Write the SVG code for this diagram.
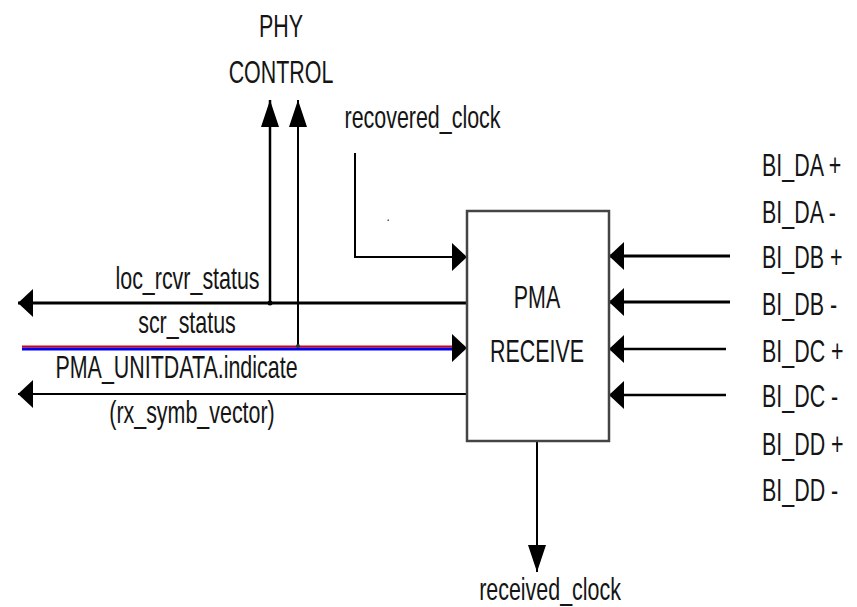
<svg xmlns="http://www.w3.org/2000/svg" width="857" height="607" viewBox="0 0 857 607">
<style>
text{font-family:"Liberation Sans",Arial,sans-serif;font-size:32px;fill:#151515}
.c{text-anchor:middle}
.ln{fill:none;stroke:#000}
</style>
<defs>
<marker id="ah" markerUnits="userSpaceOnUse" viewBox="0 0 15 28" refX="15" refY="14" markerWidth="15" markerHeight="28" orient="auto">
<path d="M0,0 L15,14 L0,28 Z" fill="#000"/>
</marker>
<marker id="av" markerUnits="userSpaceOnUse" viewBox="0 0 27 18" refX="27" refY="9" markerWidth="27" markerHeight="18" orient="auto">
<path d="M0,0 L27,9 L0,18 Z" fill="#000"/>
</marker>
</defs>
<rect width="857" height="607" fill="#fff"/>

<g id="connectors">
<path class="ln" d="M467,303 H18" stroke-width="3" marker-end="url(#ah)"/>
<path d="M22,346.5 H455" stroke="#e00000" stroke-width="2"/>
<path d="M22,349 H455" stroke="#0000ee" stroke-width="3"/>
<path class="ln" d="M453,348 H467" stroke-width="2" marker-end="url(#ah)"/>
<path class="ln" d="M467,394 H18" stroke-width="2" marker-end="url(#ah)"/>
<path class="ln" d="M270,303 V100" stroke-width="2.5" marker-end="url(#av)"/>
<circle cx="270" cy="303" r="2.5" fill="#000"/>
<path class="ln" d="M298,346 V100" stroke="#333" stroke-width="2" marker-end="url(#av)"/>
<circle cx="298" cy="346" r="2" fill="#333"/>
<path class="ln" d="M355,153 V257 H467" stroke="#222" stroke-width="2" marker-end="url(#ah)"/>
<rect x="387.5" y="219.5" width="1.5" height="1.5" fill="#555"/>
<path class="ln" d="M730,256 H609" stroke-width="3" marker-end="url(#ah)"/>
<path class="ln" d="M730,302 H609" stroke-width="3" marker-end="url(#ah)"/>
<path class="ln" d="M726,349 H609" stroke="#333" stroke-width="2.5" marker-end="url(#ah)"/>
<path class="ln" d="M726,395 H609" stroke="#333" stroke-width="2.5" marker-end="url(#ah)"/>
<path class="ln" d="M537,437 V572" stroke-width="2" marker-end="url(#av)"/>
</g>

<g id="pma-receive">
<rect x="467" y="211" width="142" height="230" fill="#fff" stroke="#444" stroke-width="2.5"/>
<text class="c" transform="translate(537,308) scale(0.67,1)">PMA</text>
<text class="c" transform="translate(537,362) scale(0.67,1)">RECEIVE</text>
</g>

<g id="phy-control">
<text class="c" transform="translate(281,37) scale(0.67,1)">PHY</text>
<text class="c" transform="translate(281,83) scale(0.67,1)">CONTROL</text>
</g>

<g id="labels-left">
<text class="c" transform="translate(187.5,289) scale(0.67,1)">loc_rcvr_status</text>
<text class="c" transform="translate(187,333) scale(0.67,1)">scr_status</text>
<text class="c" transform="translate(176.5,378) scale(0.67,1)">PMA_UNITDATA.indicate</text>
<text class="c" transform="translate(192,423) scale(0.67,1)">(rx_symb_vector)</text>
</g>

<g id="recovered-clock">
<text class="c" transform="translate(422.5,128) scale(0.67,1)">recovered_clock</text>
</g>

<g id="received-clock">
<text class="c" transform="translate(550,600) scale(0.67,1)">received_clock</text>
</g>

<g id="bi-pairs">
<text transform="translate(762,176) scale(0.67,1)">BI_DA +</text>
<text transform="translate(762,223) scale(0.67,1)">BI_DA -</text>
<text transform="translate(762,268) scale(0.67,1)">BI_DB +</text>
<text transform="translate(762,315) scale(0.67,1)">BI_DB -</text>
<text transform="translate(762,362) scale(0.67,1)">BI_DC +</text>
<text transform="translate(762,407) scale(0.67,1)">BI_DC -</text>
<text transform="translate(762,455) scale(0.67,1)">BI_DD +</text>
<text transform="translate(762,501) scale(0.67,1)">BI_DD -</text>
</g>
</svg>
